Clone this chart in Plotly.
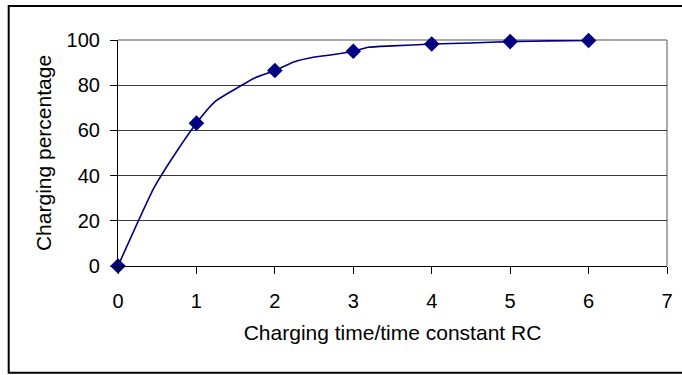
import plotly.graph_objects as go

# Charging curve of an RC circuit: percentage of full charge vs t/RC
curve_t = [0, 0.46, 0.75, 1.0, 1.24, 1.48, 1.73, 2.0, 2.24, 2.49, 2.71, 3.0, 3.19, 3.5, 4.0, 4.5, 5.0, 5.5, 6.0]
curve_pct = [0, 34.7, 50.8, 63.2, 72.8, 78.0, 83.0, 86.5, 90.3, 92.4, 93.4, 95.0, 96.8, 97.4, 98.2, 98.7, 99.3, 99.6, 99.75]

# Values at whole multiples of the time constant
marker_t = [0, 1, 2, 3, 4, 5, 6]
marker_pct = [0, 63.2, 86.5, 95.0, 98.2, 99.3, 99.75]

x_ticks = [0, 1, 2, 3, 4, 5, 6, 7]
y_ticks = [0, 20, 40, 60, 80, 100]

NAVY = "#000080"
FONT = "Liberation Sans, Arial, sans-serif"

fig = go.Figure()
fig.add_trace(go.Scatter(
    x=curve_t, y=curve_pct, mode="lines",
    line=dict(color=NAVY, width=1.6, shape="spline", smoothing=0.5),
    hoverinfo="skip", showlegend=False,
))
fig.add_trace(go.Scatter(
    x=marker_t, y=marker_pct, mode="markers", cliponaxis=False,
    marker=dict(symbol="diamond", size=12, color=NAVY), showlegend=False,
))

W, H = 682, 375
L, R, T, B = 117.5, 14.5, 40, 108.5
pw, ph = W - L - R, H - T - B

def px_x(p):
    return (p - L) / pw

def px_y(p):
    return (H - B - p) / ph

fig.update_layout(
    width=W, height=H,
    margin=dict(l=L, r=R, t=T, b=B, autoexpand=False),
    paper_bgcolor="white", plot_bgcolor="white",
    font=dict(family=FONT, size=20, color="black"),
    xaxis=dict(
        range=[0, 7], tickvals=x_ticks, ticktext=[str(v) for v in x_ticks],
        showgrid=False, zeroline=False,
        showline=True, linecolor="black", linewidth=1.2,
        ticks="outside", ticklen=7, tickcolor="black", tickwidth=1,
        ticklabelstandoff=10,
        title=dict(text="Charging time/time constant RC", font=dict(size=21), standoff=14),
    ),
    yaxis=dict(
        range=[0, 100], tickvals=y_ticks, ticktext=[str(v) for v in y_ticks],
        showgrid=True, gridcolor="#3a3a3a", gridwidth=1, zeroline=False,
        showline=True, linecolor="black", linewidth=1.2,
        ticks="outside", ticklen=7, tickcolor="black", tickwidth=1,
        ticklabelstandoff=6,
        title=dict(text="Charging percentage", font=dict(size=21), standoff=9),
    ),
    shapes=[
        # plot-area frame (top and right edges)
        dict(type="line", xref="paper", yref="paper", x0=0, x1=1, y0=1, y1=1,
             line=dict(color="#8c8c8c", width=1.5), layer="below"),
        dict(type="line", xref="paper", yref="paper", x0=1, x1=1, y0=0, y1=1,
             line=dict(color="#8c8c8c", width=1.5), layer="below"),
        # chart-area border
        dict(type="rect", xref="paper", yref="paper",
             x0=px_x(8), x1=px_x(W + 10), y0=px_y(373.5), y1=px_y(6),
             line=dict(color="black", width=2), fillcolor="rgba(0,0,0,0)"),
    ],
)

fig.write_html("out.html")
